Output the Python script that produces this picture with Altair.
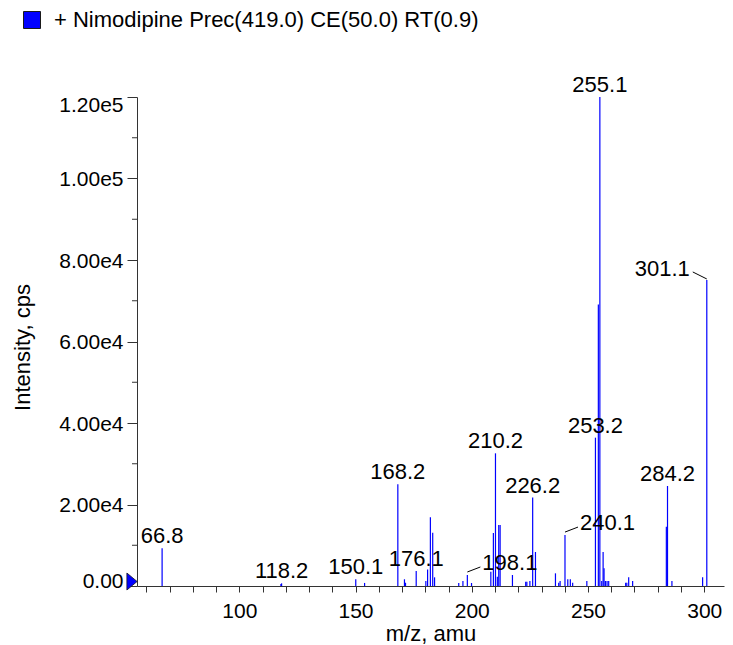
import altair as alt
import pandas as pd

SERIES = "+ Nimodipine Prec(419.0) CE(50.0) RT(0.9)"

# ---- spectrum peaks (m/z, intensity in cps) ----
peak_mz = [66.8, 117.9, 118.2, 150.1, 153.9, 168.2, 171.05, 171.5, 176.1, 180.25,
           181.0, 182.2, 183.2, 184.0, 194.4, 196.2, 198.1, 199.9, 208.2, 209.3,
           210.2, 211.0, 211.6, 212.2, 217.5, 223.2, 223.7, 225.0, 226.2, 227.4,
           236.0, 237.4, 238.0, 240.1, 241.3, 242.4, 243.4, 249.5, 253.2, 254.45,
           255.1, 255.9, 256.5, 256.9, 257.5, 258.2, 258.9, 266.2, 266.7, 267.5,
           269.2, 283.7, 284.2, 286.1, 299.3, 301.1]
peak_int = [9250, 500, 650, 1650, 750, 24950, 1650, 800, 3680, 1230,
            4050, 16900, 13050, 2130, 740, 1230, 2700, 740, 3510, 13000,
            32560, 2290, 14970, 14970, 2700, 1060, 1060, 1230, 21700, 8340,
            3110, 810, 1230, 12500, 1640, 1640, 810, 1230, 36400, 69100,
            120000, 1230, 8340, 4340, 1230, 1230, 1230, 810, 810, 2130,
            1230, 14550, 24540, 1230, 2130, 75100]

# ---- peak annotations ----
above_labels = ["66.8", "118.2", "150.1", "168.2", "176.1", "210.2", "226.2", "253.2", "255.1", "284.2"]
left_leader_labels = ["198.1", "240.1"]
right_leader_labels = ["301.1"]

# ---- axes ----
x_domain = [56, 308.5]
y_domain = [0, 120000]
x_tick_values = list(range(60, 310, 10))
y_major_values = list(range(0, 120001, 20000))
y_minor_values = list(range(10000, 120000, 20000))

FONT = "Liberation Sans"

peaks = pd.DataFrame({"mz": peak_mz, "intensity": peak_int})
lookup = dict(zip(peak_mz, peak_int))


def label_df(labels):
    return pd.DataFrame({
        "mz": [float(t) for t in labels],
        "intensity": [lookup[float(t)] for t in labels],
        "text": labels,
    })


above_df = label_df(above_labels)
left_df = label_df(left_leader_labels)
right_df = label_df(right_leader_labels)
marker_df = pd.DataFrame({"mz": [x_domain[0]], "intensity": [0], "series": [SERIES]})
minor_df = pd.DataFrame({"intensity": y_minor_values})

xscale = alt.Scale(domain=x_domain, nice=False, zero=False)
yscale = alt.Scale(domain=y_domain, nice=False)

x_axis = alt.Axis(
    orient="bottom",
    values=x_tick_values,
    labelExpr="datum.value % 50 == 0 ? datum.label : ''",
    tickSize=6, tickColor="#333", domainColor="#333",
    labelFont=FONT, labelFontSize=21, labelColor="black",
    labelBaseline="alphabetic", labelPadding=25,
    title="m/z, amu", titleFont=FONT, titleFontSize=22, titleFontWeight="normal",
    titleColor="black", titleBaseline="alphabetic", titleY=54, grid=False,
)

y_axis = alt.Axis(
    orient="left",
    values=y_major_values,
    labelExpr="datum.value == 0 ? '0.00' : replace(format(datum.value, '.2e'), '+', '')",
    tickSize=10, tickColor="#333", domainColor="#333",
    labelFont=FONT, labelFontSize=21, labelColor="black", labelPadding=4,
    labelOffset=1, labelFlush=True, labelFlushOffset=4,
    title="Intensity, cps", titleFont=FONT, titleFontSize=22, titleFontWeight="normal",
    titleColor="black", titleBaseline="alphabetic", titleX=-108, titleY=250, titleAngle=-90,
    grid=False,
)

rules = alt.Chart(peaks).mark_rule(color="#0000ff", strokeWidth=1.2).encode(
    x=alt.X("mz:Q", scale=xscale, axis=x_axis),
    y=alt.Y("intensity:Q", scale=yscale, axis=y_axis),
    y2=alt.datum(0),
)

minor_ticks = alt.Chart(minor_df).mark_rule(color="#333", strokeWidth=1).encode(
    y=alt.Y("intensity:Q", scale=yscale, axis=None),
    x=alt.value(-5),
    x2=alt.value(0),
)

marker = alt.Chart(marker_df).mark_point(
    shape="M-0.6,-1L0.6,0L-0.6,1Z", filled=True, size=289, opacity=1,
    stroke="#1a1a1a", strokeWidth=0.8, xOffset=-5, yOffset=-4.5,
).encode(
    x=alt.X("mz:Q", scale=xscale, axis=None),
    y=alt.Y("intensity:Q", scale=yscale, axis=None),
    fill=alt.Fill("series:N", scale=alt.Scale(range=["#0000ff"]),
                  legend=alt.Legend(
                      orient="none", legendX=-116, legendY=-88, title=None,
                      symbolType="square", symbolSize=289, symbolStrokeColor="#1a1a1a",
                      symbolStrokeWidth=1, symbolOpacity=1, labelFont=FONT,
                      labelFontSize=22, labelColor="black", labelOffset=11,
                      padding=0, labelLimit=0)),
)

text_above = alt.Chart(above_df).mark_text(
    font=FONT, fontSize=22, color="black", align="center", baseline="alphabetic", dy=-5,
).encode(
    x=alt.X("mz:Q", scale=xscale, axis=None),
    y=alt.Y("intensity:Q", scale=yscale, axis=None),
    text="text:N",
)

text_left = alt.Chart(left_df).mark_text(
    font=FONT, fontSize=22, color="black", align="left", baseline="middle", dx=15, dy=-12,
).encode(
    x=alt.X("mz:Q", scale=xscale, axis=None),
    y=alt.Y("intensity:Q", scale=yscale, axis=None),
    text="text:N",
)
leader_left = alt.Chart(left_df).mark_rule(
    color="black", strokeWidth=1, yOffset=-3, x2Offset=13, y2Offset=-8,
).encode(
    x=alt.X("mz:Q", scale=xscale, axis=None),
    x2="mz:Q",
    y=alt.Y("intensity:Q", scale=yscale, axis=None),
    y2="intensity:Q",
)

text_right = alt.Chart(right_df).mark_text(
    font=FONT, fontSize=22, color="black", align="right", baseline="middle", dx=-17, dy=-11,
).encode(
    x=alt.X("mz:Q", scale=xscale, axis=None),
    y=alt.Y("intensity:Q", scale=yscale, axis=None),
    text="text:N",
)
leader_right = alt.Chart(right_df).mark_rule(
    color="black", strokeWidth=1, xOffset=-14, yOffset=-8, x2Offset=0, y2Offset=-1,
).encode(
    x=alt.X("mz:Q", scale=xscale, axis=None),
    x2="mz:Q",
    y=alt.Y("intensity:Q", scale=yscale, axis=None),
    y2="intensity:Q",
)

chart = alt.layer(
    rules, minor_ticks, marker, text_above, text_left, leader_left, text_right, leader_right
).resolve_axis(x="independent", y="independent").properties(
    width=587, height=489,
    autosize=alt.AutoSizeParams(type="none"),
    padding={"left": 129, "top": 89, "right": 1, "bottom": 59},
).configure(background="white").configure_view(stroke=None)

chart.save("out.html", embed_options={"renderer": "svg", "actions": False})
